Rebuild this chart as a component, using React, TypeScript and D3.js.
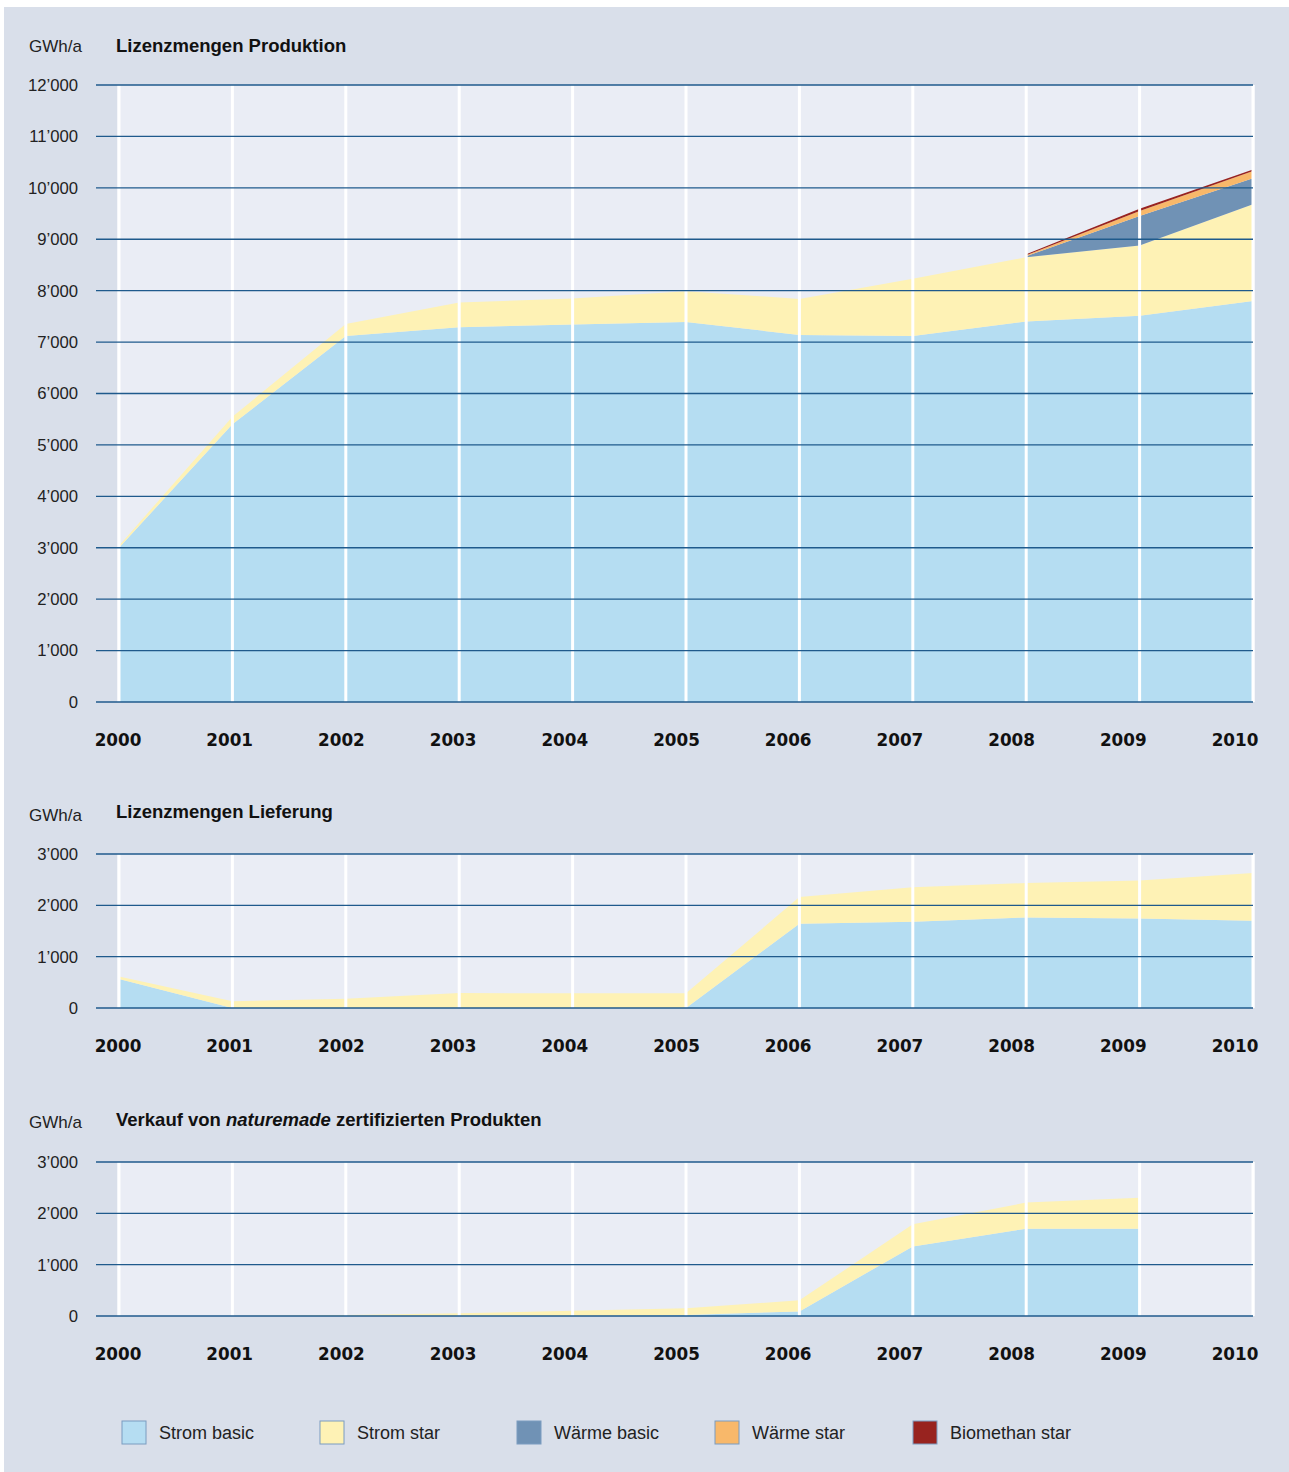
import React from "react";
import * as d3 from "d3";

const years = [2000, 2001, 2002, 2003, 2004, 2005, 2006, 2007, 2008, 2009, 2010];
const yearLabels = ["2000", "2001", "2002", "2003", "2004", "2005", "2006", "2007", "2008", "2009", "2010"];

const seriesNames = ["Strom basic", "Strom star", "Wärme basic", "Wärme star", "Biomethan star"];
const seriesColors = ["#b5ddf2", "#fef2b5", "#7092b5", "#f8b86a", "#98231f"];

// Lizenzmengen Produktion
const prodStromBasic = [3000, 5400, 7120, 7290, 7340, 7390, 7140, 7120, 7400, 7510, 7800];
const prodStromStar = [40, 150, 230, 480, 510, 600, 700, 1110, 1250, 1370, 1880];
const prodWaermeBasic = [null, null, null, null, null, null, null, null, 20, 570, 505];
const prodWaermeStar = [null, null, null, null, null, null, null, null, 20, 100, 140];
const prodBiomethanStar = [null, null, null, null, null, null, null, null, 20, 45, 30];
const prodTicks = [0, 1000, 2000, 3000, 4000, 5000, 6000, 7000, 8000, 9000, 10000, 11000, 12000];

// Lizenzmengen Lieferung
const lieferStromBasic = [565, 0, 0, 0, 0, 0, 1640, 1680, 1765, 1745, 1700];
const lieferStromStar = [50, 130, 180, 290, 285, 285, 520, 670, 670, 740, 930];
const lieferTicks = [0, 1000, 2000, 3000];

// Verkauf von naturemade zertifizierten Produkten
const verkaufStromBasic = [0, 0, 0, 0, 0, 20, 90, 1355, 1700, 1700, null];
const verkaufStromStar = [0, 0, 20, 55, 100, 130, 215, 430, 510, 605, null];
const verkaufTicks = [0, 1000, 2000, 3000];

const fmt = (v: number) => {
  if (v < 1000) return String(v);
  const th = Math.floor(v / 1000);
  return th + "\u2019" + "000";
};

const X0 = 119, X1 = 1253;
const x = d3.scaleLinear().domain([2000, 2010]).range([X0, X1]);
const xLabel = d3.scaleLinear().domain([2000, 2010]).range([118, 1235]);

type Panel = {
  series: (number | null)[][];
  ticks: number[];
  max: number;
  yTop: number;
  yBottom: number;
  titleY: number;
  unitY: number;
  labelY: number;
  title: React.ReactNode;
};

function Chart({ p }: { p: Panel }) {
  const y = d3.scaleLinear().domain([0, p.max]).range([p.yBottom, p.yTop]);
  const keys = p.series.map((_, i) => i);
  const rows = years.map((yr, j) => {
    const o: any = { year: yr };
    keys.forEach((k) => (o[k] = p.series[k][j] ?? 0));
    return o;
  });
  const stacked = d3.stack<any>().keys(keys as any)(rows);
  return (
    <g>
      <text x={82} y={p.unitY} dy="0.35em" textAnchor="end" fontFamily="Liberation Sans, Arial, sans-serif" fontSize={17} fill="#222">GWh/a</text>
      <text x={116} y={p.titleY} dy="0.35em" fontFamily="Liberation Sans, Arial, sans-serif" fontWeight="bold" fontSize={18.5} fill="#111">{p.title}</text>
      <rect x={X0 - 2} y={p.yTop} width={X1 - X0 + 4} height={p.yBottom - p.yTop} fill="#eaedf5" />
      {stacked.map((s, k) => {
        const raw = p.series[k];
        const area = d3
          .area<any>()
          .defined((_d, i) => raw[i] != null)
          .x((d) => x(d.data.year))
          .y0((d) => y(d[0]))
          .y1((d) => y(d[1]));
        return <path key={k} d={area(s as any) || ""} fill={seriesColors[k]} />;
      })}
      {years.map((yr) => (
        <line key={yr} x1={x(yr)} x2={x(yr)} y1={p.yTop} y2={p.yBottom} stroke="#ffffff" strokeWidth={3} />
      ))}
      {p.ticks.map((t) => (
        <g key={t}>
          <line x1={96} x2={X1} y1={y(t)} y2={y(t)} stroke="#1f5a8c" strokeWidth={1.3} />
          <text x={78} y={y(t)} dy="0.35em" textAnchor="end" fontFamily="Liberation Sans, Arial, sans-serif" fontSize={16.7} fill="#222">{fmt(t)}</text>
        </g>
      ))}
      {years.map((yr, i) => (
        <text key={yr} x={xLabel(yr)} y={p.labelY} dy="0.35em" textAnchor="middle" fontFamily="DejaVu Sans, sans-serif" fontWeight="bold" fontSize={16.8} fill="#111">{yearLabels[i]}</text>
      ))}
    </g>
  );
}

export default function App() {
  const panels: Panel[] = [
    {
      series: [prodStromBasic, prodStromStar, prodWaermeBasic, prodWaermeStar, prodBiomethanStar],
      ticks: prodTicks,
      max: 12000,
      yTop: 85,
      yBottom: 702,
      titleY: 46,
      unitY: 46,
      labelY: 740,
      title: "Lizenzmengen Produktion",
    },
    {
      series: [lieferStromBasic, lieferStromStar],
      ticks: lieferTicks,
      max: 3000,
      yTop: 854,
      yBottom: 1008,
      titleY: 812,
      unitY: 815,
      labelY: 1046,
      title: "Lizenzmengen Lieferung",
    },
    {
      series: [verkaufStromBasic, verkaufStromStar],
      ticks: verkaufTicks,
      max: 3000,
      yTop: 1162,
      yBottom: 1316,
      titleY: 1120,
      unitY: 1122,
      labelY: 1354,
      title: (
        <>
          <tspan>Verkauf von </tspan>
          <tspan fontStyle="italic">naturemade</tspan>
          <tspan> zertifizierten Produkten</tspan>
        </>
      ),
    },
  ];
  const legendX = [122, 320, 517, 715, 913];
  return (
    <svg width={1289} height={1472} style={{ position: "absolute", left: 0, top: 0 }}>
      <rect x={0} y={0} width={1289} height={1472} fill="#ffffff" />
      <rect x={4} y={7} width={1285} height={1465} fill="#d9dfea" />
      {panels.map((p, i) => (
        <Chart key={i} p={p} />
      ))}
      {seriesNames.map((n, i) => (
        <g key={n}>
          <rect x={legendX[i]} y={1421} width={24} height={23} fill={seriesColors[i]} stroke="#7b9cc0" strokeWidth={1} />
          <text x={legendX[i] + 37} y={1433} dy="0.35em" fontFamily="Liberation Sans, Arial, sans-serif" fontSize={18} fill="#222">{n}</text>
        </g>
      ))}
    </svg>
  );
}
